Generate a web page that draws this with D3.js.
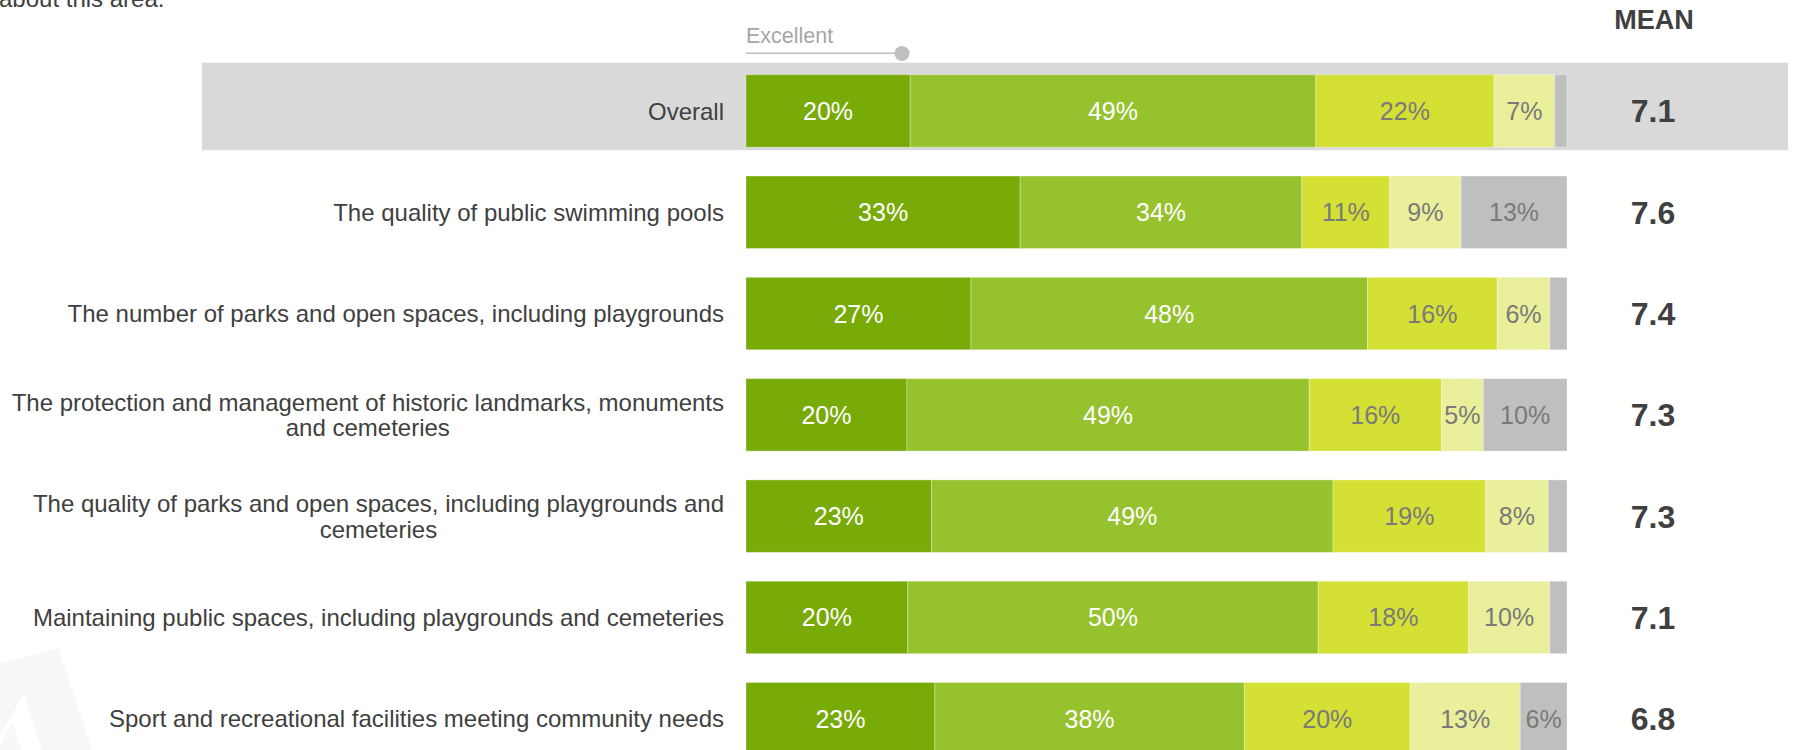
<!DOCTYPE html>
<html>
<head>
<meta charset="utf-8">
<script src="https://cdn.jsdelivr.net/npm/d3@7"></script>
<style>
  html, body { margin: 0; padding: 0; background: #ffffff; }
  svg { display: block; font-family: "Liberation Sans", Arial, sans-serif; }
</style>
</head>
<body>
<svg id="chart" width="1794" height="750"></svg>
<script>
// ---- data ----
const categories = [
  "Overall",
  "The quality of public swimming pools",
  "The number of parks and open spaces, including playgrounds",
  "The protection and management of historic landmarks, monuments\nand cemeteries",
  "The quality of parks and open spaces, including playgrounds and\ncemeteries",
  "Maintaining public spaces, including playgrounds and cemeteries",
  "Sport and recreational facilities meeting community needs"
];
const ratingKeys = ["excellent", "good", "average", "poor", "dontKnow"];
const excellent = [20.0, 33.4, 27.4, 19.6, 22.6, 19.7, 23.0];
const good      = [49.4, 34.3, 48.3, 49.0, 48.9, 50.0, 37.7];
const average   = [21.7, 10.7, 15.8, 16.1, 18.6, 18.3, 20.2];
const poor      = [ 7.4,  8.7,  6.4,  5.1,  7.6,  9.9, 13.4];
const dontKnow  = [ 1.5, 12.9,  2.1, 10.2,  2.3,  2.1,  5.7];
const means     = [7.1, 7.6, 7.4, 7.3, 7.3, 7.1, 6.8];
const headerMean = "MEAN";
const legendLabel = "Excellent";
const introTail = "about this area.";

// ---- styles ----
const colors = {
  excellent: "#78aa08",
  good: "#96c22e",
  average: "#d4e034",
  poor: "#e9ef9a",
  dontKnow: "#bfbfbf"
};
const labelColors = {
  excellent: "#ffffff",
  good: "#ffffff",
  average: "#7a7a7a",
  poor: "#7a7a7a",
  dontKnow: "#7a7a7a"
};

const svg = d3.select("#chart");

const rows = categories.map((c, i) => ({
  cat: c,
  excellent: excellent[i], good: good[i], average: average[i],
  poor: poor[i], dontKnow: dontKnow[i], mean: means[i]
}));

const x = d3.scaleLinear().domain([0, 100]).range([746, 1567]);
const y = d3.scaleBand().domain(categories)
  .range([60.3, 60.3 + 7 * 101.3])
  .paddingInner(0.285).paddingOuter(0.1425);

const stack = d3.stack().keys(ratingKeys);
const series = stack(rows);

// watermark (very faint)
const wm = svg.append("g");
wm.append("path").attr("d", "M0,664 L58,648 L92,750 L0,750 Z").attr("fill", "#f7f7f7");
wm.append("path").attr("d", "M0,735 L24,694 L42,750 L0,750 Z").attr("fill", "#ffffff");
wm.append("path").attr("d", "M0,745 L12,722 L22,750 L0,750 Z").attr("fill", "#f8f8f8");

// intro text tail (cut at top, as in the original)
svg.append("text").attr("x", -1).attr("y", 7)
  .attr("font-size", 24).attr("fill", "#404040").text(introTail);

// highlight band for Overall
svg.append("rect")
  .attr("x", 202).attr("width", 1788 - 202)
  .attr("y", y("Overall") - 12).attr("height", y.bandwidth() + 15)
  .attr("fill", "#d9d9d9");

// legend marker
const lg = svg.append("g");
lg.append("text").attr("x", x(0)).attr("y", 42.7)
  .attr("font-size", 21.5).attr("fill", "#a6a6a6").text(legendLabel);
lg.append("line").attr("x1", x(0)).attr("x2", 902).attr("y1", 53.3).attr("y2", 53.3)
  .attr("stroke", "#bfbfbf").attr("stroke-width", 1.5);
lg.append("circle").attr("cx", 902).attr("cy", 53.5).attr("r", 7.5).attr("fill", "#bfbfbf");

// MEAN header
svg.append("text").attr("x", 1654).attr("y", 29.3)
  .attr("text-anchor", "middle").attr("font-size", 27).attr("font-weight", "bold")
  .attr("fill", "#404040").text(headerMean);

// bars
const gSeries = svg.append("g").selectAll("g").data(series).join("g")
  .attr("fill", d => colors[d.key]);

gSeries.selectAll("rect").data(d => d.map(v => ({ key: d.key, v, cat: v.data.cat })))
  .join("rect")
  .attr("x", d => x(d.v[0]))
  .attr("y", d => y(d.cat))
  .attr("width", d => x(d.v[1]) - x(d.v[0]))
  .attr("height", y.bandwidth())
  .attr("stroke", "rgba(255,255,255,0.3)")
  .attr("stroke-width", 1);

// segment labels
gSeries.selectAll("text").data(d => d.map(v => ({ key: d.key, v, cat: v.data.cat })))
  .join("text")
  .filter(d => Math.round(d.v[1] - d.v[0]) >= 5)
  .attr("x", d => (x(d.v[0]) + x(d.v[1])) / 2)
  .attr("y", d => y(d.cat) + y.bandwidth() / 2 + 9)
  .attr("text-anchor", "middle")
  .attr("font-size", 25)
  .attr("fill", d => labelColors[d.key])
  .text(d => Math.round(d.v[1] - d.v[0]) + "%");

// category labels (right-aligned block, centered lines)
const labelRight = 724;
const catG = svg.append("g");
rows.forEach(r => {
  const lines = r.cat.split("\n");
  const cy = y(r.cat) + y.bandwidth() / 2;
  const lh = 25.7;
  const t = catG.append("text")
    .attr("font-size", 24).attr("fill", "#404040")
    .attr("text-anchor", "middle");
  const firstBase = cy + 8.6 - (lines.length - 1) * lh / 2;
  const spans = lines.map((ln, k) => t.append("tspan")
    .attr("y", firstBase + k * lh).text(ln));
  const w = d3.max(spans, s => s.node().getComputedTextLength());
  spans.forEach(s => s.attr("x", labelRight - w / 2));
});

// mean values
svg.append("g").selectAll("text").data(rows).join("text")
  .attr("x", 1653)
  .attr("y", d => y(d.cat) + y.bandwidth() / 2 + 11.5)
  .attr("text-anchor", "middle")
  .attr("font-size", 32).attr("font-weight", "bold")
  .attr("fill", "#404040")
  .text(d => d3.format(".1f")(d.mean));
</script>
</body>
</html>
